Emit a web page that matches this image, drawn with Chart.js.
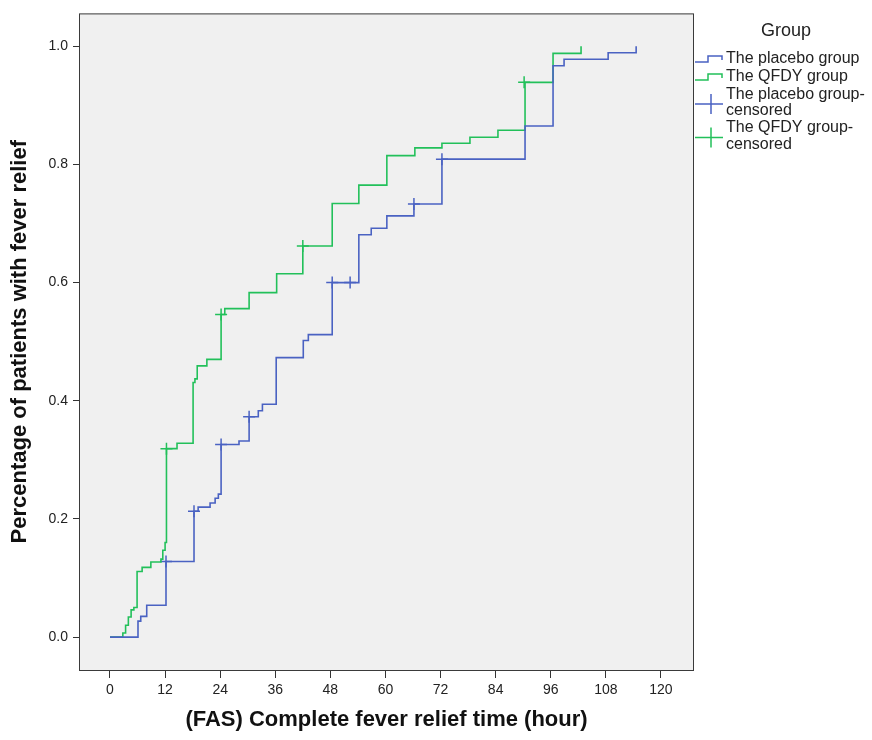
<!DOCTYPE html>
<html>
<head>
<meta charset="utf-8">
<title>Complete fever relief time</title>
<script src="https://cdn.jsdelivr.net/npm/chart.js@4.4.1/dist/chart.umd.min.js"></script>
<style>
  html, body { margin: 0; padding: 0; background: #ffffff; }
  #wrap { width: 872px; height: 740px; }
</style>
</head>
<body>
<div id="wrap"><canvas id="kmChart" width="872" height="740"></canvas></div>
<script>
'use strict';

// Kaplan-Meier style step data (hours, cumulative proportion relieved)
const placeboTimes = [0, 6.1, 6.7, 8.0, 12.2, 18.3, 19.2, 21.8, 22.9, 23.6, 24.2, 28.1, 30.3, 32.3, 33.2, 36.2, 42.1, 43.2, 48.4, 54.2, 56.9, 60.3, 66.2, 72.3, 90.4, 96.5, 98.9, 108.5, 114.6];
const placeboValues = [0, 0.027, 0.035, 0.054, 0.128, 0.213, 0.220, 0.227, 0.235, 0.242, 0.326, 0.332, 0.373, 0.383, 0.394, 0.473, 0.502, 0.512, 0.600, 0.681, 0.692, 0.713, 0.733, 0.809, 0.865, 0.967, 0.978, 0.989, 1.0];

const qfdyTimes = [0, 2.8, 3.4, 4.0, 4.6, 5.2, 5.9, 7.0, 8.9, 11.1, 11.5, 12.0, 12.3, 14.6, 18.1, 18.5, 19.0, 21.1, 24.2, 25.0, 30.3, 36.3, 42.0, 48.4, 54.2, 60.3, 66.4, 72.3, 78.4, 84.5, 90.4, 96.5, 102.6];
const qfdyValues = [0, 0.007, 0.020, 0.034, 0.046, 0.050, 0.111, 0.118, 0.127, 0.132, 0.147, 0.160, 0.319, 0.328, 0.431, 0.437, 0.459, 0.470, 0.546, 0.556, 0.583, 0.615, 0.662, 0.734, 0.765, 0.815, 0.828, 0.836, 0.846, 0.858, 0.939, 0.988, 1.0];

// censored observations
const placeboCensorTimes = [12.2, 18.3, 24.2, 30.3, 48.4, 52.3, 66.2, 72.3];
const placeboCensorValues = [0.128, 0.213, 0.326, 0.373, 0.600, 0.600, 0.733, 0.809];
const qfdyCensorTimes = [12.3, 24.2, 42.0, 90.2];
const qfdyCensorValues = [0.319, 0.546, 0.662, 0.939];

const xTicks = [0, 12, 24, 36, 48, 60, 72, 84, 96, 108, 120];
const yTicks = [0, 0.2, 0.4, 0.6, 0.8, 1.0];

const legendTitle = 'Group';
const legendRows = [
  { lines: ['The placebo group'], kind: 'step', color: '#4a62c2' },
  { lines: ['The QFDY group'], kind: 'step', color: '#22c05a' },
  { lines: ['The placebo group-', 'censored'], kind: 'cross', color: '#4a62c2' },
  { lines: ['The QFDY group-', 'censored'], kind: 'cross', color: '#22c05a' }
];

const blue = '#4a62c2';
const green = '#22c05a';
const fontFamily = '"Liberation Sans", Arial, sans-serif';

function toPoints(xs, ys) {
  return xs.map((x, i) => ({ x: x, y: ys[i] }));
}

// grey plot background + frame, like the SPSS output
const frameBg = {
  id: 'frameBg',
  beforeDatasetsDraw(chart) {
    const { ctx, chartArea: a } = chart;
    ctx.save();
    ctx.fillStyle = '#f0f0f0';
    ctx.fillRect(a.left, a.top, a.right - a.left, a.bottom - a.top);
    ctx.restore();
  },
  afterDatasetsDraw(chart) {
    const { ctx, chartArea: a } = chart;
    ctx.save();
    ctx.strokeStyle = '#3a3a3a';
    ctx.lineWidth = 1;
    ctx.strokeRect(a.left + 0.5, a.top + 0.5, a.right - a.left - 1, a.bottom - a.top);
    ctx.restore();
  }
};

// legend drawn at the right of the frame
const groupLegend = {
  id: 'groupLegend',
  afterDraw(chart) {
    const ctx = chart.ctx;
    const x0 = chart.chartArea.right + 1;
    ctx.save();
    ctx.fillStyle = '#222';
    ctx.textBaseline = 'middle';
    ctx.font = '18px ' + fontFamily;
    ctx.textAlign = 'center';
    ctx.fillText(legendTitle, 786, 31);

    ctx.font = '16px ' + fontFamily;
    ctx.textAlign = 'left';
    const rowY = [[59], [77], [95, 111], [128, 145]];
    legendRows.forEach((row, i) => {
      const ys = rowY[i];
      row.lines.forEach((t, j) => ctx.fillText(t, 726, ys[j]));
      ctx.strokeStyle = row.color;
      ctx.lineWidth = 1.5;
      ctx.beginPath();
      if (row.kind === 'step') {
        const cy = ys[0];
        ctx.moveTo(x0, cy + 3);
        ctx.lineTo(708, cy + 3);
        ctx.lineTo(708, cy - 3);
        ctx.lineTo(722, cy - 3);
        ctx.lineTo(722, cy + 1);
      } else {
        const cy = (ys[0] + ys[1]) / 2 + 1;
        ctx.moveTo(x0, cy);
        ctx.lineTo(723, cy);
        ctx.moveTo(711, cy - 10);
        ctx.lineTo(711, cy + 10);
      }
      ctx.stroke();
    });
    ctx.restore();
  }
};

const ctx = document.getElementById('kmChart').getContext('2d');
new Chart(ctx, {
  type: 'line',
  data: {
    datasets: [
      {
        label: 'The placebo group',
        data: toPoints(placeboTimes, placeboValues),
        borderColor: blue,
        borderWidth: 1.6,
        stepped: 'before',
        pointRadius: 0,
        fill: false
      },
      {
        label: 'The QFDY group',
        data: toPoints(qfdyTimes, qfdyValues),
        borderColor: green,
        borderWidth: 1.6,
        stepped: 'before',
        pointRadius: 0,
        fill: false
      },
      {
        label: 'The placebo group-censored',
        data: toPoints(placeboCensorTimes, placeboCensorValues),
        showLine: false,
        pointStyle: 'cross',
        pointRadius: 6,
        pointBorderWidth: 1.5,
        borderColor: blue,
        pointBorderColor: blue
      },
      {
        label: 'The QFDY group-censored',
        data: toPoints(qfdyCensorTimes, qfdyCensorValues),
        showLine: false,
        pointStyle: 'cross',
        pointRadius: 6,
        pointBorderWidth: 1.5,
        borderColor: green,
        pointBorderColor: green
      }
    ]
  },
  options: {
    responsive: false,
    animation: false,
    layout: { padding: { top: 12, right: 178, left: 0, bottom: 0 } },
    plugins: {
      legend: { display: false },
      tooltip: { enabled: false }
    },
    scales: {
      x: {
        type: 'linear',
        min: -6.75,
        max: 127.2,
        afterFit: (scale) => { scale.height = 70; },
        afterBuildTicks: (axis) => { axis.ticks = xTicks.map(v => ({ value: v })); },
        grid: { drawOnChartArea: false, drawTicks: true, tickLength: 8, tickColor: '#333' },
        border: { display: false },
        ticks: {
          color: '#222',
          font: { family: fontFamily, size: 14 },
          padding: 4,
          maxRotation: 0,
          autoSkip: false
        },
        title: {
          display: true,
          text: '(FAS) Complete fever relief time (hour)',
          color: '#111',
          font: { family: fontFamily, size: 22, weight: 'bold' },
          padding: { top: 0, bottom: 7 }
        }
      },
      y: {
        type: 'linear',
        min: -0.0557,
        max: 1.0557,
        afterFit: (scale) => { scale.width = 79; },
        afterBuildTicks: (axis) => { axis.ticks = yTicks.map(v => ({ value: v })); },
        grid: { drawOnChartArea: false, drawTicks: true, tickLength: 6, tickColor: '#333' },
        border: { display: false },
        ticks: {
          color: '#222',
          font: { family: fontFamily, size: 14 },
          padding: 5,
          autoSkip: false,
          callback: (v) => Number(v).toFixed(1)
        },
        title: {
          display: true,
          text: 'Percentage of patients with fever relief',
          color: '#111',
          font: { family: fontFamily, size: 22, weight: 'bold' },
          padding: { top: 7, bottom: 0 }
        }
      }
    }
  },
  plugins: [frameBg, groupLegend]
});
</script>
</body>
</html>
